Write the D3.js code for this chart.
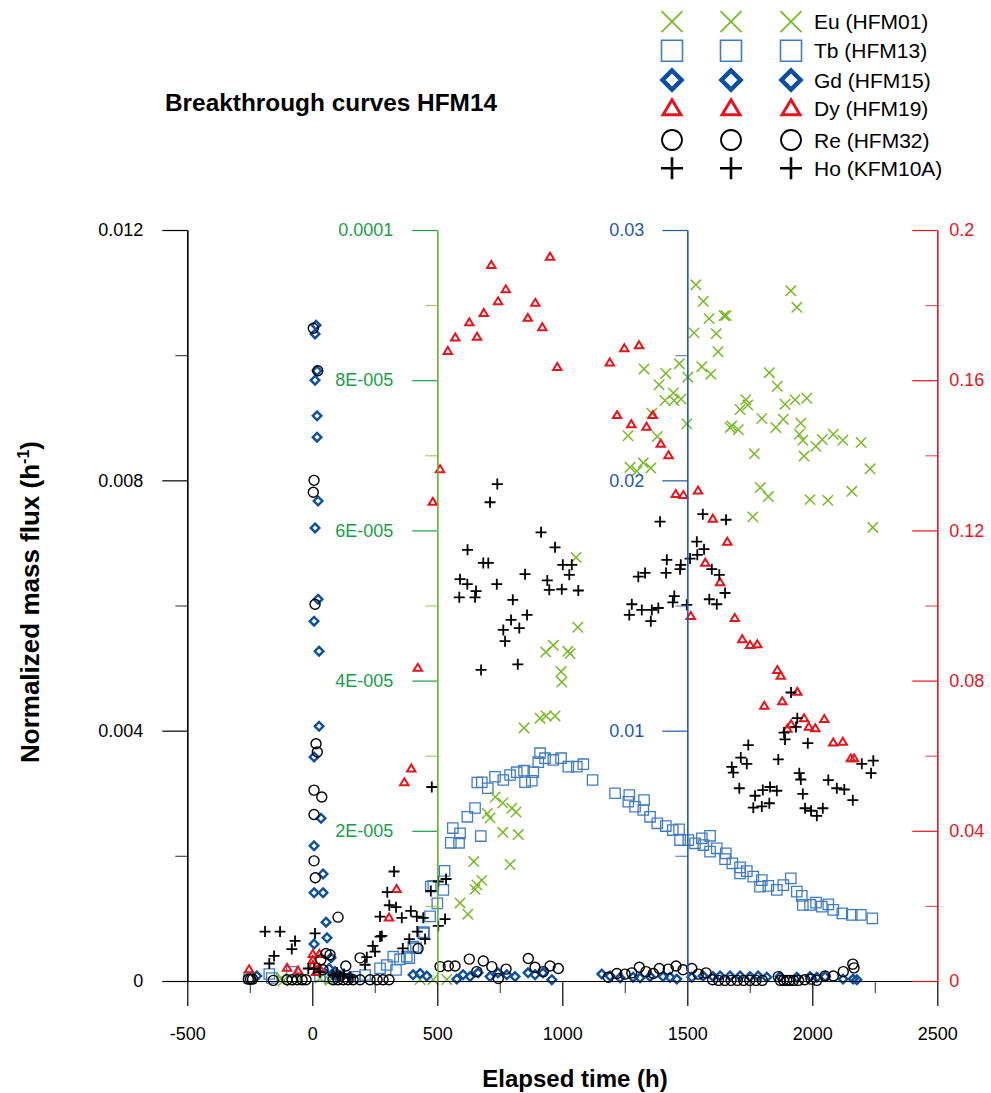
<!DOCTYPE html>
<html>
<head>
<meta charset="utf-8">
<script src="https://cdnjs.cloudflare.com/ajax/libs/d3/7.8.5/d3.min.js"></script>
<style>
  body { margin: 0; background: #fff; }
  text { font-family: "Liberation Sans", Arial, sans-serif; }
</style>
</head>
<body>
<div id="chart"></div>
<script>
// size of the picture
var w = 991;
var h = 1093;

// tick values
var timeTicks = [-500, 0, 500, 1000, 1500, 2000, 2500];
var leftTicks = [0, 0.004, 0.008, 0.012];
var greenTicks = [2e-5, 4e-5, 6e-5, 8e-5, 1e-4];
var blueTicks = [0.01, 0.02, 0.03];
var redTicks = [0, 0.04, 0.08, 0.12, 0.16, 0.2];

// legend
var legendNames = ["Eu (HFM01)", "Tb (HFM13)", "Gd (HFM15)", "Dy (HFM19)", "Re (HFM32)", "Ho (KFM10A)"];

// Eu (HFM01) - green axis [time h, flux]
var eu = [[-122,0.04e-5],[-117,0],[-57,0.01e-5],[31,0.04e-5],[71,0.01e-5],[431,0.02e-5],[483,0.02e-5],[538,0.02e-5],
  [591,1.04e-5],[622,0.89e-5],[646,1.59e-5],[651,1.22e-5],[658,1.28e-5],[678,1.34e-5],[700,2.23e-5],[711,2.17e-5],
  [732,2.45e-5],[762,2.37e-5],[762,1.98e-5],[791,1.55e-5],[798,2.30e-5],[815,2.25e-5],[824,1.95e-5],[847,3.37e-5],
  [911,3.50e-5],[934,4.38e-5],[935,3.53e-5],[964,4.47e-5],[971,3.53e-5],[995,4.12e-5],[998,3.98e-5],[1022,4.39e-5],
  [1031,4.36e-5],[1055,5.64e-5],[1062,4.71e-5],
  [1263,7.26e-5],[1271,6.84e-5],[1298,6.79e-5],[1324,6.90e-5],[1327,8.15e-5],[1354,6.83e-5],[1358,7.56e-5],[1380,7.25e-5],
  [1387,7.94e-5],[1411,7.73e-5],[1414,8.09e-5],[1444,7.83e-5],[1447,7.73e-5],[1468,8.22e-5],[1475,7.75e-5],[1498,7.42e-5],
  [1502,8.04e-5],[1527,8.63e-5],[1534,9.27e-5],[1558,8.18e-5],[1564,9.05e-5],[1587,8.82e-5],[1594,8.08e-5],[1616,8.62e-5],
  [1623,8.38e-5],[1647,8.86e-5],[1655,8.86e-5],[1671,7.37e-5],[1678,7.39e-5],[1704,7.34e-5],[1711,7.61e-5],[1734,7.74e-5],
  [1742,7.67e-5],[1762,6.18e-5],[1768,7.02e-5],[1792,6.57e-5],[1798,7.49e-5],[1824,6.45e-5],[1828,8.10e-5],[1854,7.37e-5],
  [1860,7.92e-5],[1884,7.48e-5],[1891,7.68e-5],[1914,9.19e-5],[1931,7.74e-5],[1938,8.97e-5],[1948,7.28e-5],[1954,7.43e-5],
  [1962,7.20e-5],[1967,6.99e-5],[1978,7.76e-5],[1991,6.41e-5],[2014,7.12e-5],[2040,7.21e-5],[2062,6.40e-5],[2084,7.28e-5],
  [2122,7.20e-5],[2158,6.52e-5],[2195,7.17e-5],[2231,6.82e-5],[2242,6.04e-5]];

// Tb (HFM13) - blue axis
var tb = [[-253,0.00012],[-172,0.00028],[-162,0.00012],[-82,0.00037],[31,0.0002],[71,0.00012],[171,0.00017],[211,0.00024],
  [271,0.00051],[298,0.00064],[324,0.00097],[335,0.00044],[351,0.00087],[378,0.00097],[388,0.00091],[404,0.00137],
  [415,0.00131],[444,0.00191],[447,0.00195],[471,0.00258],[474,0.00377],[484,0.0038],[500,0.0031],[524,0.00364],
  [529,0.0044],[554,0.00552],[562,0.00611],[587,0.00552],[591,0.0059],[620,0.00656],[651,0.00691],[660,0.00793],
  [674,0.00579],[678,0.00794],[702,0.0077],[731,0.00816],[764,0.00803],[791,0.00823],[818,0.00834],[847,0.0084],
  [851,0.00794],[878,0.008],[884,0.00834],[904,0.00874],[911,0.0091],[931,0.0089],[964,0.00883],[995,0.0089],
  [1024,0.00856],[1058,0.00856],[1084,0.00866],[1121,0.00803],
  [1211,0.0075],[1264,0.00716],[1268,0.00743],[1291,0.00696],[1324,0.00683],[1327,0.00723],[1351,0.00656],[1380,0.0063],
  [1414,0.00619],[1442,0.00603],[1467,0.00606],[1471,0.00563],[1504,0.00563],[1531,0.0055],[1558,0.0057],[1564,0.00543],
  [1591,0.0058],[1591,0.00517],[1618,0.0053],[1651,0.00487],[1654,0.0051],[1680,0.0047],[1711,0.00454],[1711,0.0043],
  [1738,0.00439],[1764,0.00417],[1791,0.00377],[1798,0.00403],[1824,0.0038],[1858,0.00364],[1884,0.00383],[1914,0.0041],
  [1938,0.00357],[1958,0.0034],[1962,0.00304],[1991,0.00304],[2015,0.00313],[2038,0.00297],[2064,0.00306],[2084,0.00284],
  [2120,0.0027],[2158,0.00264],[2194,0.00264],[2240,0.0025]];

// Gd (HFM15) - left axis
var gd = [[-222,0.00008],[83,0.0001],[95,0.00009],[120,0.00008],[151,0.00007],[403,0.0001],[431,0.00012],[458,0.00008],
  [578,0.00003],[603,0.0001],[631,0.00007],[663,0.00013],[711,0.00007],[743,0.00013],[778,0.0001],[811,0.00007],
  [863,0.00013],[891,0.0001],[923,0.00013],[958,0.00002],
  [15,0.01048],[11,0.01034],[19,0.00975],[11,0.0096],[19,0.00903],[19,0.00869],[23,0.00767],[11,0.00724],
  [23,0.0061],[7,0.00575],[27,0.00527],[27,0.00407],[7,0.00358],[35,0.0026],[7,0.00216],[43,0.00171],
  [7,0.00141],[43,0.00141],[55,0.00094],[59,0.00069],[7,0.00059],[75,0.00037],[67,0.0002],[91,0.00015],
  [1158,0.00011],[1191,0.00008],[1231,0.00005],[1283,0.00006],[1311,0.00005],[1351,0.00007],[1403,0.00007],[1431,0.00006],
  [1458,0.00003],[1518,0.00006],[1563,0.00008],[1603,0.00007],[1631,0.00008],[1671,0.00008],[1711,0.00008],[1751,0.00007],
  [1783,0.00008],[1818,0.00006],[1871,0.00007],[1938,0.00006],[1991,0.00007],[2018,0.00006],[2051,0.00007],[2123,0.00003],
  [2163,0.00003],[2178,0.00002]];

// Dy (HFM19) - red axis
var dy = [[-253,0.0031],[-101,0.0035],[-57,0.0028],[2,0.0072],[28,0.0072],[2,0.0056],[2,0.0043],[28,0.0035],[15,0.0024],
  [307,0.0169],[337,0.0245],[368,0.0529],[396,0.0566],[422,0.0834],[482,0.1276],[511,0.1363],[542,0.1678],[572,0.1714],
  [628,0.1754],[659,0.1716],[686,0.1779],[716,0.1907],[743,0.181],[774,0.1842],[862,0.1766],[892,0.1806],[920,0.1741],
  [951,0.1929],[980,0.1635],
  [1190,0.1647],[1248,0.1685],[1307,0.1693],[1219,0.1507],[1276,0.1483],[1337,0.1476],[1362,0.1507],[1394,0.1431],
  [1425,0.14],[1454,0.1297],[1484,0.1294],[1543,0.1306],[1602,0.1231],[1660,0.117],[1572,0.1114],[1631,0.1062],
  [1514,0.0972],[1690,0.0967],[1720,0.091],[1751,0.0895],[1780,0.0897],[1860,0.0828],[1874,0.0813],[1808,0.0733],
  [1880,0.0745],[1940,0.077],[1915,0.0684],[1900,0.0672],[1967,0.07],[2048,0.0698],[1986,0.0677],[2012,0.0673],
  [2084,0.0635],[2122,0.0637],[2154,0.0593],[2167,0.0593]];

// Re (HFM32) - left axis
var re = [[-256,0.00003],[-247,0.00003],[-239,0.00003],[-156,0.00001],[-101,0.00002],[-81,0.00002],[-61,0.00002],[-41,0.00002],[-25,0.00002],
  [4,0.01043],[22,0.00975],[7,0.008],[4,0.00781],[11,0.00602],[15,0.00379],[20,0.00366],[7,0.00305],[38,0.00294],
  [7,0.00266],[7,0.00192],[12,0.00165],[103,0.00102],[55,0.00044],[71,0.00042],[34,0.00034],[134,0.00024],[191,0.00037],
  [43,0.00018],[83,0.00002],[103,0.00002],[123,0.00002],[143,0.00002],[163,0.00002],[191,0.00002],[231,0.00002],
  [259,0.00002],[283,0.00002],[307,0.00002],[423,0.00052],[511,0.00023],[544,0.00024],[571,0.00024],[628,0.00035],
  [658,0.00015],[684,0.00032],[718,0.00023],[744,0.00004],[775,0.00019],[864,0.00036],[891,0.00022],[924,0.00015],
  [951,0.00024],[984,0.0002],
  [1184,0.00006],[1218,0.00012],[1251,0.00011],[1278,0.00013],[1308,0.00022],[1335,0.00015],[1364,0.00012],[1388,0.0002],
  [1424,0.00019],[1455,0.00024],[1483,0.00018],[1518,0.0002],[1544,0.00011],[1575,0.00013],[1601,0.00002],[1625,0.00001],
  [1650,0.00001],[1675,0.00001],[1700,0.00001],[1725,0.00001],[1750,0.00001],[1775,0.00001],[1800,0.00001],[1864,0.00007],
  [1872,0.00001],[1885,0.00001],[1898,0.00001],[1910,0.00001],[1925,0.00001],[1945,0.00001],[1970,0.00002],[1995,0.00003],
  [2018,0.00001],[2051,0.00008],[2084,0.00008],[2124,0.00015],[2162,0.00027],[2167,0.00021]];

// Ho (KFM10A) - left axis
var ho = [[-189,0.00079],[-129,0.00079],[-153,0.0004],[-172,0.00028],[-82,0.00051],[-69,0.00064],[-16,0.0002],[7,0.00019],
  [11,0.00076],[31,0.00014],[83,0.0001],[99,0.00013],[111,0.00008],[127,0.00011],[151,0.00006],[211,0.00026],
  [218,0.00038],[242,0.00056],[251,0.00047],[271,0.00071],[271,0.00103],[278,0.00072],[300,0.00142],[308,0.00121],
  [327,0.00175],[335,0.00118],[358,0.00101],[362,0.00052],[388,0.00067],[394,0.00112],[418,0.00103],[420,0.00079],
  [444,0.00101],[451,0.00067],[474,0.00144],[478,0.0031],[504,0.00159],[504,0.00088],[531,0.00099],[535,0.00163],
  [588,0.00613],[591,0.00642],[621,0.00689],[620,0.00634],[651,0.00613],[655,0.00623],[675,0.00497],[684,0.00668],
  [704,0.00668],[711,0.00765],[738,0.00634],[740,0.00794],[764,0.00561],[771,0.00543],[795,0.00577],[802,0.00609],
  [822,0.00506],[828,0.00564],[851,0.0065],[859,0.00585],[915,0.00717],[940,0.0064],[948,0.00625],[971,0.00693],
  [998,0.00626],[1002,0.00665],[1028,0.00649],[1038,0.00665],[1064,0.00624],
  [1268,0.00585],[1278,0.00602],[1304,0.00646],[1318,0.00593],[1331,0.00652],[1354,0.00575],[1358,0.00593],[1384,0.00596],
  [1391,0.00734],[1415,0.00652],[1418,0.00673],[1442,0.00605],[1448,0.00615],[1471,0.00658],[1474,0.00665],[1498,0.00601],
  [1511,0.00675],[1538,0.00702],[1540,0.00681],[1562,0.00746],[1567,0.0069],[1588,0.0061],[1598,0.00658],[1618,0.00602],
  [1628,0.00649],[1651,0.0062],[1655,0.00737],[1678,0.00342],[1684,0.00333],[1708,0.00308],[1714,0.00357],[1738,0.00347],
  [1744,0.00377],[1764,0.00277],[1771,0.00296],[1798,0.00279],[1802,0.00305],[1828,0.00284],[1831,0.0031],[1858,0.00304],
  [1864,0.00354],[1887,0.00397],[1891,0.00386],[1915,0.00461],[1935,0.00406],[1940,0.0042],[1948,0.00332],[1954,0.00322],
  [1962,0.00299],[1971,0.00276],[1982,0.0038],[1995,0.00272],[2018,0.00264],[2042,0.00276],[2064,0.00321],[2098,0.00308],
  [2128,0.00306],[2162,0.00289],[2198,0.00347],[2235,0.00332],[2244,0.00352]];

// colours
var cGreen = "#7ab929", cGreenAxis = "#1a9e48";
var cBlue = "#3f7cc2", cBlueAxis = "#1f5aa6", cDark = "#0b4fa0";
var cRed = "#e8141c";

//Create SVG element
var svg = d3.select("#chart")
  .append("svg")
  .attr("width", w)
  .attr("height", h);

// scales
var x = d3.scaleLinear().domain([-500, 2500]).range([187.3, 937.3]);
var yLeft = d3.scaleLinear().domain([0, 0.012]).range([981, 230]);
var yGreen = d3.scaleLinear().domain([0, 1e-4]).range([981, 230]);
var yBlue = d3.scaleLinear().domain([0, 0.03]).range([981, 230]);
var yRed = d3.scaleLinear().domain([0, 0.2]).range([981, 230]);

// marker shapes
var shapes = {
  x: function(s) { return "M" + (-s) + "," + (-s) + "L" + s + "," + s + "M" + (-s) + "," + s + "L" + s + "," + (-s); },
  square: function(s) { return "M" + (-s) + "," + (-s) + "H" + s + "V" + s + "H" + (-s) + "Z"; },
  diamond: function(s) { return "M0," + (-s) + "L" + s + ",0L0," + s + "L" + (-s) + ",0Z"; },
  triangle: function(s) { return "M0," + (-s) + "L" + (s * 1.05) + "," + (s * 0.75) + "L" + (-s * 1.05) + "," + (s * 0.75) + "Z"; },
  circle: function(s) { return "M" + s + ",0A" + s + "," + s + " 0 1,1 " + (-s) + ",0A" + s + "," + s + " 0 1,1 " + s + ",0Z"; },
  plus: function(s) { return "M" + (-s) + ",0H" + s + "M0," + (-s) + "V" + s; }
};

var series = [
  { data: tb, y: yBlue, shape: "square", size: 5.2, color: cBlue, sw: 1.3, leg: 10.5, lsw: 1.6 },
  { data: eu, y: yGreen, shape: "x", size: 5.2, color: cGreen, sw: 1.5, leg: 10.5, lsw: 1.8 },
  { data: gd, y: yLeft, shape: "diamond", size: 4.3, color: cDark, sw: 2.4, leg: 9.5, lsw: 4.5 },
  { data: dy, y: yRed, shape: "triangle", size: 4, color: cRed, sw: 2, leg: 8.5, lsw: 3 },
  { data: re, y: yLeft, shape: "circle", size: 5, color: "#000", sw: 1.4, leg: 10, lsw: 1.8 },
  { data: ho, y: yLeft, shape: "plus", size: 5.5, color: "#000", sw: 1.8, leg: 11, lsw: 2.6 }
];

// points
series.forEach(function(s) {
  svg.append("g")
    .selectAll("path")
    .data(s.data)
    .enter()
    .append("path")
    .attr("transform", function(d) { return "translate(" + x(d[0]) + "," + s.y(d[1]) + ")"; })
    .attr("d", shapes[s.shape](s.size))
    .attr("fill", "none")
    .attr("stroke", s.color)
    .attr("stroke-width", s.sw);
});

// helper to style an axis group
function styleAxis(g, color, minor) {
  g.select(".domain").attr("stroke", color).attr("stroke-width", 1.2);
  g.selectAll(".tick line").attr("stroke", color).attr("stroke-width", 1.2).attr("opacity", minor ? 0.7 : 1);
  g.selectAll(".tick text").attr("fill", color).attr("font-size", "18px")
    .attr("font-family", "'Liberation Sans', Arial, sans-serif");
}

// x axis
var gx = svg.append("g").attr("transform", "translate(0,981)")
  .call(d3.axisBottom(x).tickValues(timeTicks).tickSize(25).tickSizeOuter(0).tickPadding(21)
    .tickFormat(function(d) { return String(d); }));
styleAxis(gx, "#000");
var gx2 = svg.append("g").attr("transform", "translate(0,981)")
  .call(d3.axisBottom(x).tickValues([-250, 250, 750, 1250, 1750, 2250]).tickSize(12).tickSizeOuter(0).tickFormat(""));
styleAxis(gx2, "#000", true);

// left axis
var gl = svg.append("g").attr("transform", "translate(187.3,0)")
  .call(d3.axisLeft(yLeft).tickValues(leftTicks).tickSize(25).tickSizeOuter(0).tickPadding(19)
    .tickFormat(function(d) { return d === 0 ? "0" : d3.format(".3f")(d); }));
styleAxis(gl, "#000");
var gl2 = svg.append("g").attr("transform", "translate(187.3,0)")
  .call(d3.axisLeft(yLeft).tickValues([0.002, 0.006, 0.01]).tickSize(12).tickSizeOuter(0).tickFormat(""));
styleAxis(gl2, "#000", true);

// green axis at t = 500
var gg = svg.append("g").attr("transform", "translate(" + x(500) + ",0)")
  .call(d3.axisLeft(yGreen).tickValues(greenTicks).tickSize(25).tickSizeOuter(0).tickPadding(19)
    .tickFormat(function(d) { return d >= 1e-4 ? "0.0001" : Math.round(d * 1e5) + "E-005"; }));
styleAxis(gg, cGreenAxis);
var gg2 = svg.append("g").attr("transform", "translate(" + x(500) + ",0)")
  .call(d3.axisLeft(yGreen).tickValues([1e-5, 3e-5, 5e-5, 7e-5, 9e-5]).tickSize(12).tickSizeOuter(0).tickFormat(""));
styleAxis(gg2, cGreen, true);

// blue axis at t = 1500
var gb = svg.append("g").attr("transform", "translate(" + x(1500) + ",0)")
  .call(d3.axisLeft(yBlue).tickValues(blueTicks).tickSize(25).tickSizeOuter(0).tickPadding(18)
    .tickFormat(d3.format(".2f")));
styleAxis(gb, cBlueAxis);
var gb2 = svg.append("g").attr("transform", "translate(" + x(1500) + ",0)")
  .call(d3.axisLeft(yBlue).tickValues([0.005, 0.015, 0.025]).tickSize(12).tickSizeOuter(0).tickFormat(""));
styleAxis(gb2, cBlueAxis, true);

// red axis at t = 2500, ticks inward
var gr = svg.append("g").attr("transform", "translate(" + x(2500) + ",0)")
  .call(d3.axisRight(yRed).tickValues(redTicks).tickSize(-25).tickSizeOuter(0).tickPadding(12)
    .tickFormat(d3.format("~g")));
styleAxis(gr, cRed);
var gr2 = svg.append("g").attr("transform", "translate(" + x(2500) + ",0)")
  .call(d3.axisRight(yRed).tickValues([0.02, 0.06, 0.1, 0.14, 0.18]).tickSize(-12).tickSizeOuter(0).tickFormat(""));
styleAxis(gr2, cRed, true);

// titles
svg.append("text")
  .attr("x", 165).attr("y", 111)
  .attr("font-size", "24.4px").attr("font-weight", "bold")
  .text("Breakthrough curves HFM14");

svg.append("text")
  .attr("x", 575).attr("y", 1087)
  .attr("text-anchor", "middle")
  .attr("font-size", "24px").attr("font-weight", "bold")
  .text("Elapsed time (h)");

var yt = svg.append("text")
  .attr("transform", "translate(39,602) rotate(-90)")
  .attr("text-anchor", "middle")
  .attr("font-size", "26px").attr("font-weight", "bold");
yt.append("tspan").text("Normalized mass flux (h");
yt.append("tspan").attr("dy", -10).attr("font-size", "16px").text("-1");
yt.append("tspan").attr("dy", 10).text(")");

// legend: three symbol columns and a label
var legRows = [21.7, 50.7, 80, 108.3, 140, 168.3];
var legCols = [672, 731, 791];
var legend = svg.append("g");
series.forEach(function(s, i) {
  var row = ["x", "square", "diamond", "triangle", "circle", "plus"].indexOf(s.shape);
  legCols.forEach(function(cx) {
    legend.append("path")
      .attr("transform", "translate(" + cx + "," + legRows[row] + ")")
      .attr("d", shapes[s.shape](s.leg))
      .attr("fill", "none")
      .attr("stroke", s.color)
      .attr("stroke-width", s.lsw);
  });
  legend.append("text")
    .attr("x", 814).attr("y", legRows[row])
    .attr("dy", "0.36em")
    .attr("font-size", "21px")
    .text(legendNames[row]);
});
</script>
</body>
</html>
